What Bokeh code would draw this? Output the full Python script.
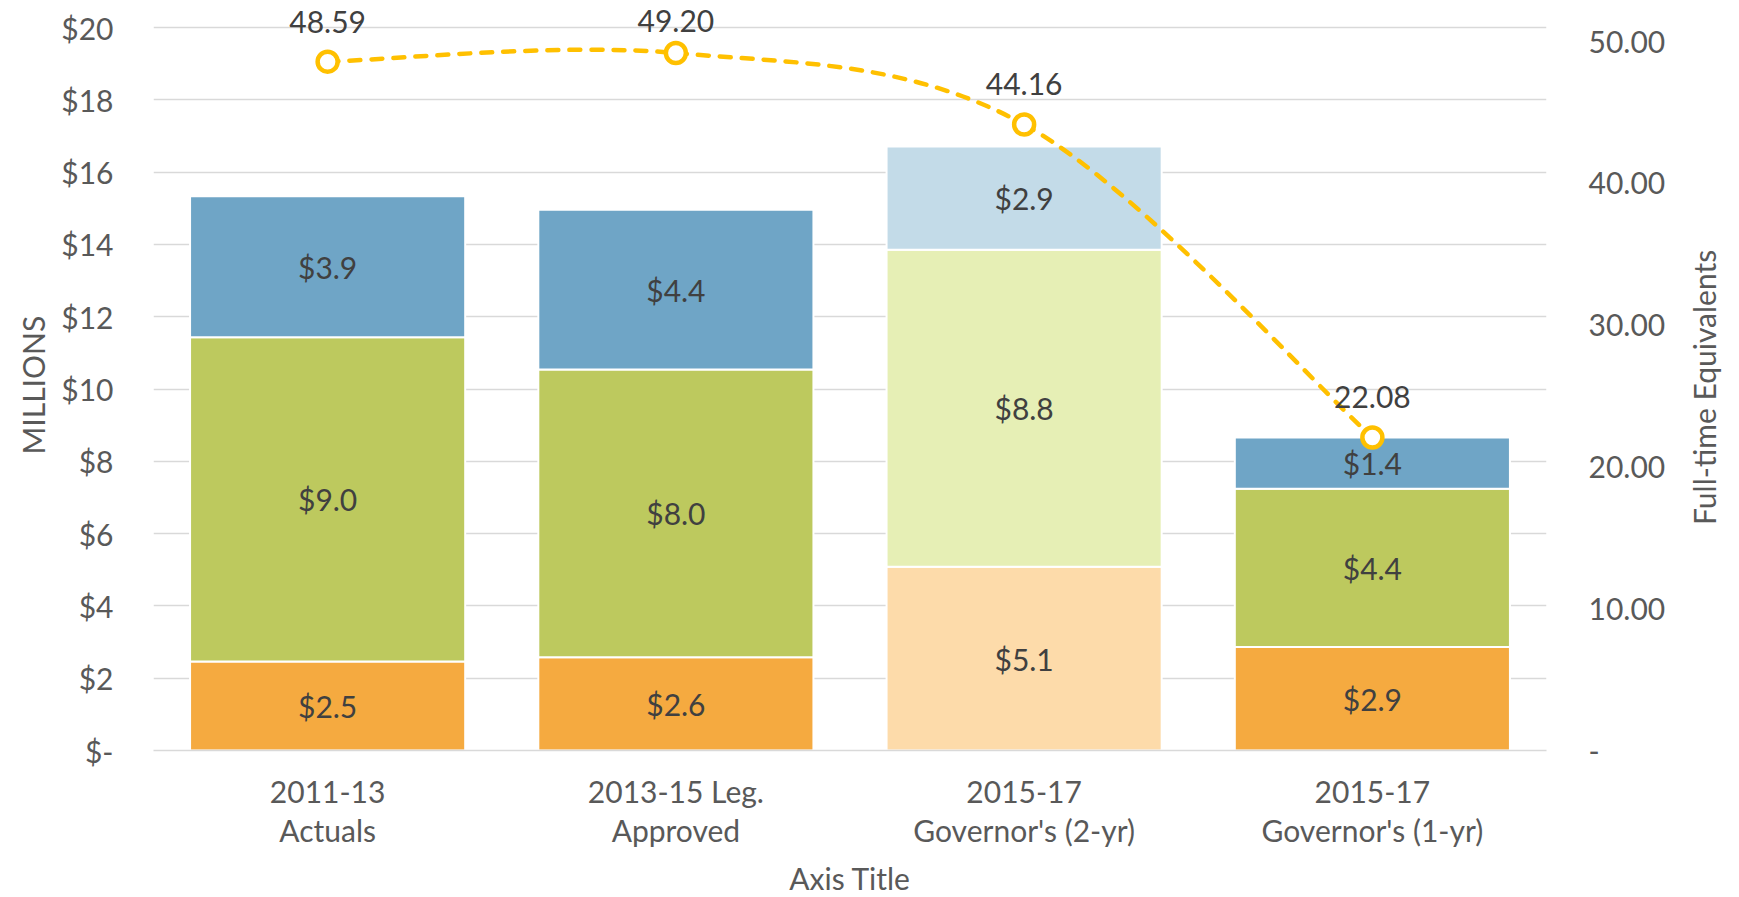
import numpy as np
from bokeh.plotting import figure
from bokeh.layouts import row
from bokeh.models import Range1d, LinearAxis, FixedTicker, ColumnDataSource, LabelSet, Title
from bokeh.core.properties import value
from bokeh.embed import file_html
from bokeh.resources import INLINE

# ---------------- data ----------------
categories = ["2011-13\nActuals", "2013-15 Leg.\nApproved",
              "2015-17\nGovernor's (2-yr)", "2015-17\nGovernor's (1-yr)"]
orange_vals = [2.46, 2.58, 5.08, 2.86]
green_vals = [8.97, 7.96, 8.77, 4.38]
blue_vals = [3.90, 4.42, 2.86, 1.42]
faded = [False, False, True, False]
fte_vals = [48.59, 49.20, 44.16, 22.08]

money_ticks = [0, 2, 4, 6, 8, 10, 12, 14, 16, 18, 20]
money_tick_labels = ["$-", "$2", "$4", "$6", "$8", "$10", "$12", "$14", "$16", "$18", "$20"]
fte_ticks = [0, 10, 20, 30, 40, 50]
fte_tick_labels = ["-", "10.00", "20.00", "30.00", "40.00", "50.00"]

# ---------------- style ----------------
FONT = "Lato"
FS = "30px"
TICK_COLOR = "#595959"
LABEL_COLOR = "#404040"
GRID_COLOR = "#D9D9D9"
GOLD = "#FFC000"
colors_full = {"orange": "#F5AA40", "green": "#BDC95E", "blue": "#6FA5C6"}
colors_faded = {"orange": "#FDDBAA", "green": "#E6EFB5", "blue": "#C3DBE8"}

n = len(categories)
xs = np.arange(n) + 0.5
Y_MAX = 20
FTE_MAX = 51

# geometry (px)
PLOT_H = 723          # height of the $0..$20 band
TOP_PAD = 27          # room above $20 kept inside the frame for the line labels
BOTTOM = 147
FRAME_W = 1393
MAIN_LEFT = 153
MAIN_RIGHT = 125
RIGHT_STRIP_LEFT = 50
LABEL_LIFT = 40       # line labels sit this far above their points
LABEL_MIN_TOP = 20    # ...but never higher than this (px from top)

pad_factor = (PLOT_H + TOP_PAD) / PLOT_H

p = figure(frame_width=FRAME_W, frame_height=PLOT_H + TOP_PAD,
           min_border_left=MAIN_LEFT, min_border_right=MAIN_RIGHT,
           min_border_top=0, min_border_bottom=BOTTOM,
           x_range=Range1d(0, n), y_range=Range1d(0, Y_MAX * pad_factor),
           output_backend="svg", toolbar_location=None,
           background_fill_color="white", border_fill_color="white")
p.outline_line_color = None
p.extra_y_ranges = {"fte": Range1d(0, FTE_MAX * pad_factor)}

# grid
p.xgrid.visible = False
p.ygrid.grid_line_color = GRID_COLOR
p.ygrid.grid_line_width = 1.5

# left axis
ya = p.yaxis[0]
ya.ticker = FixedTicker(ticks=money_ticks)
ya.major_label_overrides = {t: l for t, l in zip(money_ticks, money_tick_labels)}
ya.axis_line_color = None
ya.major_tick_line_color = None
ya.minor_tick_line_color = None
ya.major_tick_out = 0
ya.major_label_standoff = 40
ya.major_label_text_font = FONT
ya.major_label_text_font_size = FS
ya.major_label_text_color = TICK_COLOR

# left axis title, centred on the $0..$20 band (reads bottom-to-top)
MILLIONS_LEN = 131
p.add_layout(Title(text="MILLIONS", align="left",
                   offset=PLOT_H / 2 - MILLIONS_LEN / 2,
                   standoff=16, text_font=FONT, text_font_size=FS,
                   text_font_style="normal", text_color=TICK_COLOR), "left")

# bottom axis
xa = p.xaxis[0]
xa.ticker = FixedTicker(ticks=list(xs))
xa.major_label_overrides = {float(x): c for x, c in zip(xs, categories)}
xa.axis_line_color = GRID_COLOR
xa.axis_line_width = 1.5
xa.major_tick_line_color = None
xa.minor_tick_line_color = None
xa.major_tick_out = 0
xa.major_label_standoff = 22
xa.major_label_text_font = FONT
xa.major_label_text_font_size = FS
xa.major_label_text_color = TICK_COLOR
xa.major_label_text_line_height = 1.1
xa.axis_label = "Axis Title"
xa.axis_label_text_font = FONT
xa.axis_label_text_font_size = FS
xa.axis_label_text_font_style = "normal"
xa.axis_label_text_color = TICK_COLOR
xa.axis_label_standoff = 9

# right axis
ra = LinearAxis(y_range_name="fte")
ra.ticker = FixedTicker(ticks=fte_ticks)
ra.major_label_overrides = {t: l for t, l in zip(fte_ticks, fte_tick_labels)}
ra.axis_line_color = None
ra.major_tick_line_color = None
ra.minor_tick_line_color = None
ra.major_tick_out = 0
ra.major_label_standoff = 42
ra.major_label_text_font = FONT
ra.major_label_text_font_size = FS
ra.major_label_text_color = TICK_COLOR
p.add_layout(ra, "right")

# ---------------- stacked bars ----------------
stack = [("orange", orange_vals), ("green", green_vals), ("blue", blue_vals)]
bottoms = np.zeros(n)
for name, vals in stack:
    vals = np.array(vals, dtype=float)
    tops = bottoms + vals
    cols = [colors_faded[name] if f else colors_full[name] for f in faded]
    src = ColumnDataSource(dict(x=xs, bottom=bottoms, top=tops, color=cols,
                                mid=(bottoms + tops) / 2,
                                label=[f"${v:.1f}" for v in vals]))
    p.vbar(x="x", bottom="bottom", top="top", width=0.79, fill_color="color",
           line_color="white", line_width=2, source=src)
    p.text(x="x", y="mid", text="label", source=src, text_align="center",
           text_baseline="middle", text_font=value(FONT), text_font_size=FS,
           text_color=LABEL_COLOR)
    bottoms = tops

# ---------------- smoothed FTE line (Catmull-Rom bezier) ----------------
fy = np.array(fte_vals, dtype=float)
px = np.concatenate([[xs[0]], xs, [xs[-1]]])
py = np.concatenate([[fy[0]], fy, [fy[-1]]])
x0, y0, x1, y1, cx0, cy0, cx1, cy1 = [], [], [], [], [], [], [], []
for i in range(n - 1):
    P0x, P0y = px[i], py[i]
    P1x, P1y = px[i + 1], py[i + 1]
    P2x, P2y = px[i + 2], py[i + 2]
    P3x, P3y = px[i + 3], py[i + 3]
    x0.append(P1x); y0.append(P1y); x1.append(P2x); y1.append(P2y)
    cx0.append(P1x + (P2x - P0x) / 6); cy0.append(P1y + (P2y - P0y) / 6)
    cx1.append(P2x - (P3x - P1x) / 6); cy1.append(P2y - (P3y - P1y) / 6)
p.bezier(x0=x0, y0=y0, x1=x1, y1=y1, cx0=cx0, cy0=cy0, cx1=cx1, cy1=cy1,
         line_color=GOLD, line_width=4.5, line_dash="11 11", line_cap="round",
         y_range_name="fte")
p.scatter(x=xs, y=fy, marker="circle", size=20, fill_color="white",
          line_color=GOLD, line_width=4.5, y_range_name="fte")

# labels above points, kept inside the chart area near the top edge
point_px = TOP_PAD + PLOT_H * (1 - fy / FTE_MAX)
lifts = np.minimum(LABEL_LIFT, point_px - LABEL_MIN_TOP)
line_src = ColumnDataSource(dict(x=xs, y=fy, lift=lifts,
                                 label=[f"{v:.2f}" for v in fy]))
p.add_layout(LabelSet(x="x", y="y", text="label", source=line_src,
                      y_range_name="fte", y_offset="lift", text_align="center",
                      text_baseline="middle", text_font=value(FONT),
                      text_font_size=FS, text_color=LABEL_COLOR))

# ---------------- right axis title strip (reads bottom-to-top) ----------------
FTE_TITLE_LEN = 272
strip = figure(frame_width=1, frame_height=PLOT_H + TOP_PAD,
               min_border_left=RIGHT_STRIP_LEFT, min_border_right=0,
               min_border_top=0, min_border_bottom=BOTTOM,
               x_axis_location=None, y_axis_location=None,
               x_range=Range1d(0, 1), y_range=Range1d(0, 1),
               output_backend="svg", toolbar_location=None,
               background_fill_color="white", border_fill_color="white")
strip.outline_line_color = None
strip.grid.visible = False
strip.add_layout(Title(text="Full-time Equivalents", align="left",
                       offset=PLOT_H / 2 - FTE_TITLE_LEN / 2,
                       standoff=0, text_font=FONT, text_font_size=FS,
                       text_font_style="normal", text_color=TICK_COLOR), "left")

layout = row(p, strip, spacing=0)
open("out.html", "w").write(file_html(layout, INLINE))
